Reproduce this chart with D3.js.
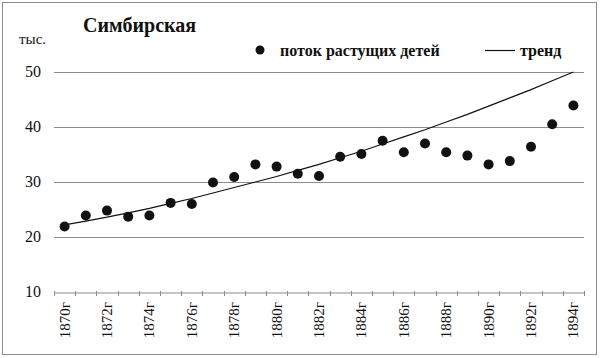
<!DOCTYPE html>
<html><head><meta charset="utf-8">
<script src="https://cdn.jsdelivr.net/npm/d3@7"></script>
</head><body style="margin:0">
<svg id="c" width="600" height="358"></svg>
<script>
const years = ["1870г","1871г","1872г","1873г","1874г","1875г","1876г","1877г","1878г","1879г","1880г","1881г","1882г","1883г","1884г","1885г","1886г","1887г","1888г","1889г","1890г","1891г","1892г","1893г","1894г"];
const children = [21.9,23.9,24.8,23.7,23.9,26.2,26.0,29.9,30.9,33.2,32.8,31.5,31.1,34.6,35.1,37.5,35.4,37.0,35.4,34.8,33.2,33.8,36.4,40.5,43.9];
const trend = [22.2,22.9,23.6,24.4,25.2,26.1,27.0,28.0,29.0,30.0,31.0,32.1,33.2,34.4,35.6,36.9,38.2,39.5,40.9,42.3,43.8,45.3,46.8,48.4,50.0];
const yTicks = [10,20,30,40,50];
const title = "Симбирская";
const unit = "тыс.";
const legendDots = "поток растущих детей";
const legendTrend = "тренд";

(function(){
const F = "Liberation Serif";
const svg = d3.select("#c").style("font-family",`"${F}"`);
const pl = 54, pr = 584, pt = 72, pb = 292;

svg.append("rect").attr("x",2.5).attr("y",2.5).attr("width",594).attr("height",352)
  .attr("fill","#fff").attr("stroke","#8c8c8c").attr("stroke-width",1);

const x = d3.scaleBand().domain(years).range([pl,pr]);
const y = d3.scaleLinear().domain([10,50]).range([pb,pt]);

svg.append("g").selectAll("line").data(yTicks.filter(d=>d>10)).join("line")
  .attr("x1",pl).attr("x2",pr)
  .attr("y1",d=>Math.round(y(d))+0.5).attr("y2",d=>Math.round(y(d))+0.5)
  .attr("stroke","#8c8c8c").attr("stroke-width",1);

svg.selectAll("text.yl").data(yTicks).join("text").attr("class","yl")
  .attr("x",41).attr("y",d=>y(d)+5).attr("fill","#111")
  .style("font-family",`"${F}"`)
  .attr("text-anchor","end").attr("font-size",16).text(d=>d);

const xAxis = d3.axisBottom(x).tickSize(0).tickFormat("");
const gx = svg.append("g").attr("transform",`translate(0,${pb+0.5})`).call(xAxis);
gx.select(".domain").attr("stroke","#8c8c8c");
const bounds = years.map(d=>x(d)).concat([pr]);
svg.append("g").selectAll("line").data(bounds).join("line")
  .attr("x1",d=>Math.round(d)+0.5).attr("x2",d=>Math.round(d)+0.5)
  .attr("y1",pb-1).attr("y2",pb+4)
  .attr("stroke","#8c8c8c");
svg.selectAll("text.xl").data(years.filter((d,i)=>i%2===0)).join("text").attr("class","xl")
  .attr("transform",d=>`translate(${x(d)+x.bandwidth()/2+5},302) rotate(-90)`)
  .style("font-family",`"${F}"`).attr("fill","#111")
  .attr("text-anchor","end").attr("font-size",15).text(d=>d);

const line = d3.line().x((d,i)=>x(years[i])+x.bandwidth()/2).y(d=>y(d));
svg.append("path").datum(trend).attr("d",line)
  .attr("fill","none").attr("stroke","#111").attr("stroke-width",1.2);

svg.append("g").selectAll("circle").data(children).join("circle")
  .attr("cx",(d,i)=>x(years[i])+x.bandwidth()/2).attr("cy",d=>y(d))
  .attr("r",5).attr("fill","#111");

svg.append("text").attr("x",83).attr("y",32).style("font-family",`"${F}"`).attr("fill","#111")
  .attr("font-size",20).attr("font-weight","bold").text(title);
svg.append("text").attr("x",19).attr("y",44).style("font-family",`"${F}"`).attr("fill","#111")
  .attr("font-size",15).text(unit);

svg.append("circle").attr("cx",260).attr("cy",50).attr("r",4.5).attr("fill","#111");
svg.append("text").attr("x",280).attr("y",56).style("font-family",`"${F}"`).attr("fill","#111")
  .attr("font-size",16).attr("font-weight","bold").text(legendDots);
svg.append("line").attr("x1",485).attr("x2",515).attr("y1",50.5).attr("y2",50.5).attr("stroke","#111").attr("stroke-width",1.2);
svg.append("text").attr("x",520).attr("y",56).style("font-family",`"${F}"`).attr("fill","#111")
  .attr("font-size",16).attr("font-weight","bold").text(legendTrend);
})();
</script>
</body></html>
